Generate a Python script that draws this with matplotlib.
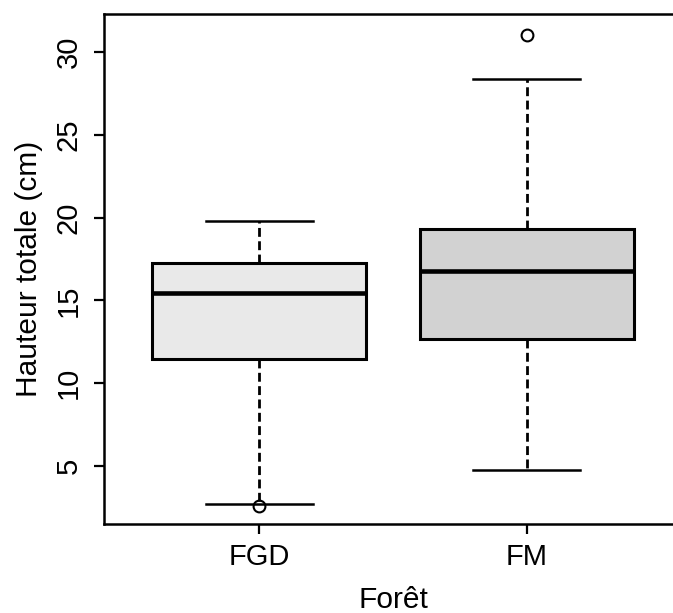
import matplotlib
matplotlib.use("Agg")
import matplotlib.pyplot as plt

plt.rcParams['font.family'] = ['Liberation Sans', 'DejaVu Sans']

forets = ["FGD", "FM"]
whisk_lo = [2.69, 4.76]
q1 = [11.45, 12.69]
median = [15.42, 16.77]
q3 = [17.27, 19.33]
whisk_hi = [19.78, 28.4]
outliers = [[2.6], [31.05]]
fills = ["#e9e9e9", "#d2d2d2"]
yticks = [5, 10, 15, 20, 25, 30]

stats = []
for i, f in enumerate(forets):
    stats.append(dict(label=f, whislo=whisk_lo[i], q1=q1[i], med=median[i],
                      q3=q3[i], whishi=whisk_hi[i], fliers=outliers[i]))

fig = plt.figure(figsize=(6.73, 6.13), dpi=100)
ax = fig.add_axes([0.1545, 0.1452, 0.859, 0.832])

bp = ax.bxp(stats, positions=[1, 2], widths=0.8, patch_artist=True,
            boxprops=dict(linewidth=2.2, edgecolor="black"),
            medianprops=dict(linewidth=3.3, color="black", solid_capstyle="butt"),
            whiskerprops=dict(linewidth=2.0, color="black", linestyle=(0, (3.2, 1.6))),
            capprops=dict(linewidth=1.8, color="black"),
            flierprops=dict(marker="o", markerfacecolor="none", markeredgecolor="black",
                            markersize=8.5, markeredgewidth=1.5))
for patch, c in zip(bp["boxes"], fills):
    patch.set_facecolor(c)
for cap in bp["caps"]:
    x0, x1 = cap.get_xdata()
    mid = (x0 + x1) / 2
    cap.set_xdata([mid - 0.2, mid + 0.2])

ax.set_xlim(0.42, 2.58)
ax.set_ylim(1.5, 32.3)
ax.set_yticks(yticks)
ax.set_yticklabels([str(t) for t in yticks], rotation=90, va="center")
ax.set_xticks([1, 2])
ax.set_xticklabels(forets)

for s in ["left", "bottom", "top", "right"]:
    ax.spines[s].set_linewidth(1.8)

ax.tick_params(axis="both", direction="out", length=7.5, width=1.6, labelsize=21)
ax.tick_params(axis="x", pad=6)
ax.tick_params(axis="y", pad=8)

ax.set_xlabel("Forêt", fontsize=21.5, labelpad=11)
ax.set_ylabel("Hauteur totale (cm)", fontsize=21.5, labelpad=8)

fig.savefig("out.png", dpi=100)
